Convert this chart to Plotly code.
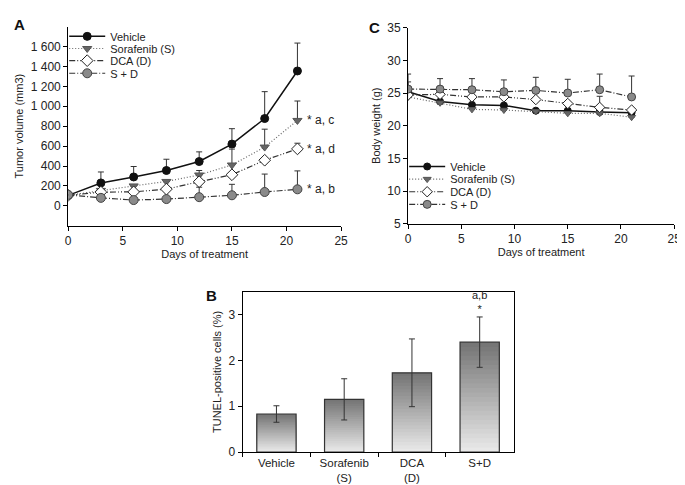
import plotly.graph_objects as go

# ---------------- data ----------------
days = [0, 3, 6, 9, 12, 15, 18, 21]
series_names = ["Vehicle", "Sorafenib (S)", "DCA (D)", "S + D"]

# Panel A: tumor volume (mm3)
vol_vehicle = [105, 230, 290, 355, 445, 620, 877, 1355]
vol_soraf = [105, 155, 200, 245, 310, 410, 590, 858]
vol_dca = [105, 138, 140, 168, 242, 312, 458, 572]
vol_sd = [110, 80, 58, 68, 87, 106, 139, 166]
vol_vehicle_err = [0, 110, 105, 113, 97, 155, 270, 280]
vol_soraf_err = [0, 10, 10, 10, 45, 160, 180, 195]
vol_dca_err = [0, 5, 5, 5, 10, 10, 10, 57]
vol_sd_err = [0, 5, 5, 5, 100, 110, 180, 185]

# Panel C: body weight (g)
bw_vehicle = [25.2, 23.7, 23.2, 23.1, 22.3, 22.3, 22.1, 22.0]
bw_soraf = [24.4, 23.5, 22.5, 22.4, 22.2, 21.9, 21.9, 21.3]
bw_dca = [24.7, 24.8, 24.4, 24.4, 24.0, 23.4, 22.8, 22.4]
bw_sd = [25.6, 25.6, 25.5, 25.2, 25.4, 25.0, 25.5, 24.4]
bw_vehicle_err = [1.5, 0.2, 0.2, 0.2, 0.2, 0.2, 0.2, 0.2]
bw_soraf_err = [0.2, 0.2, 0.2, 0.2, 0.2, 0.2, 0.2, 0.2]
bw_dca_err = [0.2, 0.2, 0.2, 0.2, 0.2, 0.2, 1.7, 0.2]
bw_sd_err = [2.3, 1.6, 1.7, 1.8, 2.0, 2.1, 2.4, 3.2]

# Panel B: TUNEL-positive cells (%)
tunel_labels = ["Vehicle", "Sorafenib<br>(S)", "DCA<br>(D)", "S+D"]
tunel_values = [0.83, 1.15, 1.73, 2.40]
tunel_err = [0.18, 0.45, 0.74, 0.55]

vol_tick_vals = [0, 200, 400, 600, 800, 1000, 1200, 1400, 1600]
vol_tick_text = ["0", "200", "400", "600", "800", "1 000", "1 200", "1 400", "1 600"]

# ---------------- styles ----------------
FONT = "Liberation Sans, Arial, sans-serif"
styles = [
    dict(line=dict(color="#111111", width=1.5, dash="solid"),
         marker=dict(symbol="circle", size=8, color="#111111", line=dict(color="#111111", width=1))),
    dict(line=dict(color="#666666", width=1.2, dash="1px,2px"),
         marker=dict(symbol="triangle-down", size=8, color="#666666", line=dict(color="#555555", width=1))),
    dict(line=dict(color="#333333", width=1.2, dash="6px,2px,1px,2px,1px,2px"),
         marker=dict(symbol="diamond", size=9, color="white", line=dict(color="#222222", width=1))),
    dict(line=dict(color="#333333", width=1.2, dash="6px,2px,1px,2px"),
         marker=dict(symbol="circle", size=9, color="#8a8a8a", line=dict(color="#444444", width=1))),
]

fig = go.Figure()

vol_sets = [(vol_vehicle, vol_vehicle_err), (vol_soraf, vol_soraf_err),
            (vol_dca, vol_dca_err), (vol_sd, vol_sd_err)]
for i, (name, (vals, err), st) in enumerate(zip(series_names, vol_sets, styles)):
    fig.add_trace(go.Scatter(
        x=days, y=vals, name=name, mode="lines+markers", xaxis="x", yaxis="y",
        legend="legend" if i == 0 else f"legend{i + 1}", line=st["line"], marker=st["marker"],
        error_y=dict(type="data", symmetric=False, array=err, arrayminus=[0] * len(err),
                     color="#333333", thickness=1, width=3),
    ))

bw_sets = [(bw_vehicle, bw_vehicle_err), (bw_soraf, bw_soraf_err),
           (bw_dca, bw_dca_err), (bw_sd, bw_sd_err)]
for i, (name, (vals, err), st) in enumerate(zip(series_names, bw_sets, styles)):
    m = dict(st["marker"])
    m["size"] = m["size"] - 1
    fig.add_trace(go.Scatter(
        x=days, y=vals, name=name, mode="lines+markers", xaxis="x2", yaxis="y2",
        legend=f"legend{i + 5}", line=st["line"], marker=m,
        error_y=dict(type="data", symmetric=False, array=err, arrayminus=[0] * len(err),
                     color="#333333", thickness=1, width=3),
    ))

# Panel B bars with vertical gradient (dark top -> light bottom), built by overlaying
N = 24
for k in range(N):
    frac = 1 - k / N
    g = int(118 + (232 - 118) * k / (N - 1))
    fig.add_trace(go.Bar(
        x=tunel_labels, y=[v * frac for v in tunel_values], xaxis="x3", yaxis="y3",
        marker=dict(color=f"rgb({g},{g},{g})", line=dict(width=0)),
        width=0.58, showlegend=False, hoverinfo="skip",
    ))
fig.add_trace(go.Bar(
    x=tunel_labels, y=tunel_values, xaxis="x3", yaxis="y3",
    marker=dict(color="rgba(0,0,0,0)", line=dict(color="#333333", width=1.2)),
    width=0.58, showlegend=False,
    error_y=dict(type="data", array=tunel_err, color="#333333", thickness=1, width=3),
))

axis_common = dict(showline=True, linecolor="black", linewidth=1, ticks="outside",
                   tickcolor="black", ticklen=4, showgrid=False, zeroline=False,
                   tickfont=dict(family=FONT, size=12, color="#222"))

layout = dict(
    width=685, height=485, margin=dict(l=0, r=0, t=0, b=0),
    paper_bgcolor="white", plot_bgcolor="white",
    font=dict(family=FONT, color="#222"),
    barmode="overlay", showlegend=True,
    xaxis=dict(domain=[58 / 685, 335 / 685], anchor="y", range=[0, 25], tickvals=[0, 5, 10, 15, 20, 25],
               title=dict(text="Days of treatment", font=dict(size=11), standoff=0), **axis_common),
    yaxis=dict(domain=[1 - 217 / 485, 1 - 12 / 485], anchor="x", range=[-200, 1800],
               tickvals=vol_tick_vals, ticktext=vol_tick_text,
               title=dict(text="Tumor volume (mm3)", font=dict(size=11), standoff=4), **axis_common),
    xaxis2=dict(domain=[403 / 685, 673 / 685], anchor="y2", range=[0, 25], tickvals=[0, 5, 10, 15, 20, 25],
                title=dict(text="Days of treatment", font=dict(size=11), standoff=0), **axis_common),
    yaxis2=dict(domain=[1 - 215 / 485, 1 - 13 / 485], anchor="x2", range=[5, 35],
                tickvals=[5, 10, 15, 20, 25, 30, 35],
                title=dict(text="Body weight (g)", font=dict(size=11), standoff=4), **axis_common),
    xaxis3=dict(domain=[235 / 685, 510 / 685], anchor="y3", tickson="boundaries", mirror=True,
                **{**axis_common, "tickfont": dict(family=FONT, size=11.5, color="#222")}),
    yaxis3=dict(domain=[1 - 450 / 485, 1 - 285 / 485], anchor="x3", range=[0, 3.5],
                tickvals=[0, 1, 2, 3], mirror=True,
                title=dict(text="TUNEL-positive cells (%)", font=dict(size=11), standoff=4), **axis_common),
)

# one legend per entry so the rows sit as tightly as in the original
legA_rows = [22, 34.5, 47, 60]
legC_rows = [156, 169, 182, 195]
for i, yy in enumerate(legA_rows):
    key = "legend" if i == 0 else f"legend{i + 1}"
    layout[key] = dict(x=54 / 685, y=1 - yy / 485, xanchor="left", yanchor="middle",
                       bgcolor="rgba(0,0,0,0)", borderwidth=0, font=dict(size=11, family=FONT),
                       itemwidth=36, itemsizing="trace")
for i, yy in enumerate(legC_rows):
    layout[f"legend{i + 5}"] = dict(x=399 / 685, y=1 - yy / 485, xanchor="left", yanchor="middle",
                                    bgcolor="rgba(0,0,0,0)", borderwidth=0, font=dict(size=11, family=FONT),
                                    itemwidth=36, itemsizing="trace")
fig.update_layout(**layout)

# Significance labels in panel A
sig_labels = ["* a, c", "* a, d", "* a, b"]
sig_series = [vol_soraf, vol_dca, vol_sd]
for lab, s in zip(sig_labels, sig_series):
    fig.add_annotation(x=days[-1] + 0.7, y=s[-1], xref="x", yref="y", text=lab, showarrow=False,
                       xanchor="left", yanchor="middle", font=dict(size=12, family=FONT, color="#222"))

# Significance label in panel B
fig.add_annotation(x=tunel_labels[-1], y=tunel_values[-1] + tunel_err[-1], xref="x3", yref="y3",
                   text="a,b<br>*", showarrow=False, yanchor="bottom", yshift=0,
                   font=dict(size=11, family=FONT, color="#222"))

# Panel letters
for txt, px, py in [("A", 9, 10), ("C", 369, 13), ("B", 203, 289)]:
    fig.add_annotation(x=px / 685, y=1 - py / 485, xref="paper", yref="paper", text=f"<b>{txt}</b>",
                       showarrow=False, xanchor="center", yanchor="middle",
                       font=dict(size=15, family=FONT, color="#111"))

fig.write_html("out.html")
